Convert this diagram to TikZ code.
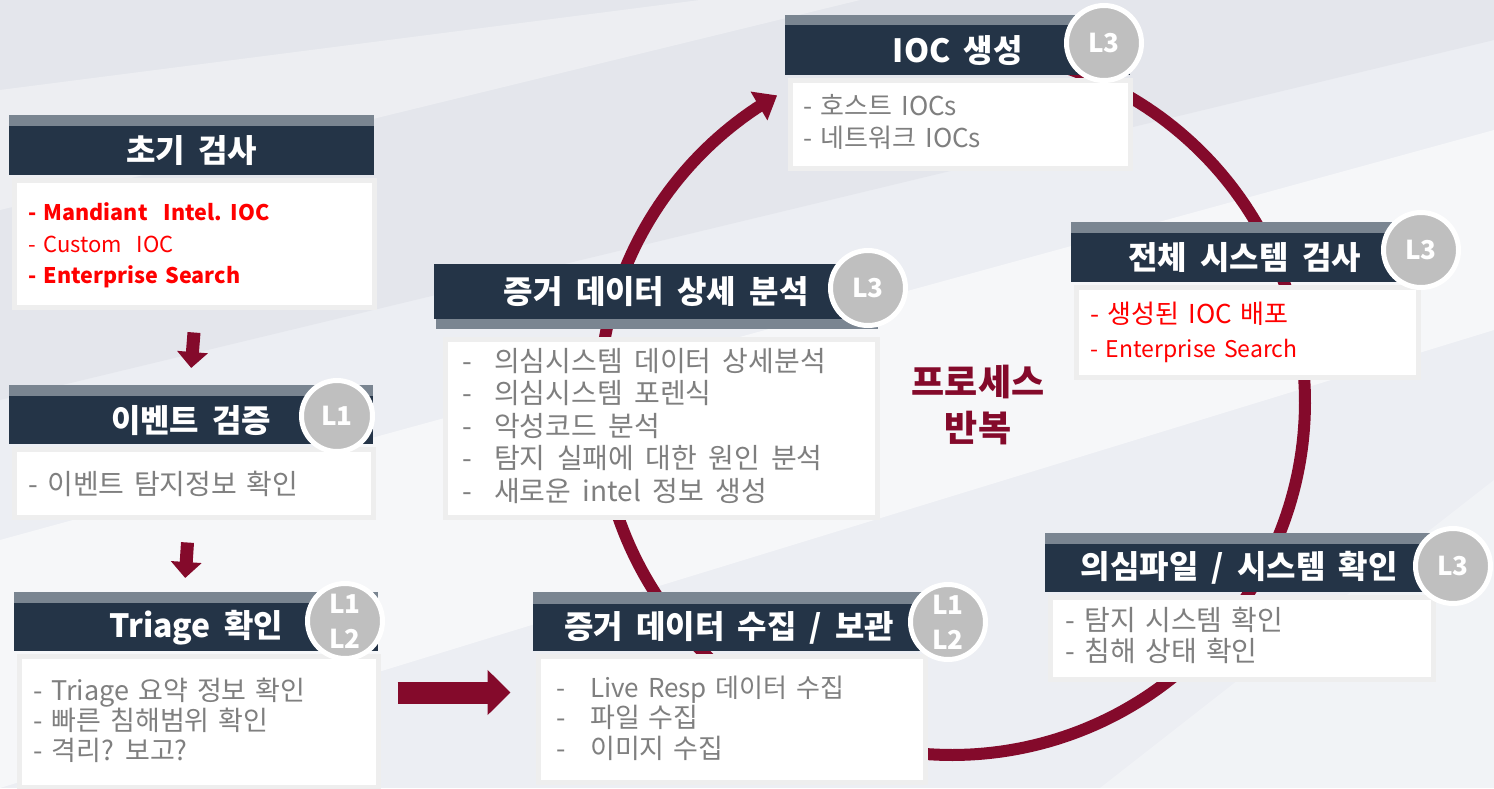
\documentclass[tikz,border=0pt]{standalone}
\usepackage{fontspec}
\setmainfont{Noto Sans CJK KR}[WordSpace=1.5]
\newfontfamily\widefont{Noto Sans CJK KR}[WordSpace=2.6]
\newfontfamily\titlefont{Noto Sans CJK KR}[WordSpace=1.8]
\usetikzlibrary{arrows.meta,calc}
\definecolor{navy}{HTML}{243447}
\definecolor{stripc}{HTML}{7A8591}
\definecolor{badgec}{HTML}{BFBFBF}
\definecolor{bodyline}{HTML}{EEEEEE}
\definecolor{txtgray}{HTML}{7F7F7F}
\definecolor{wine}{HTML}{840A2B}
\definecolor{redtxt}{HTML}{FF0000}
\definecolor{bgc}{HTML}{ECEEF3}
\definecolor{bgtop}{HTML}{E4E6EC}
\newcommand\fsz[2]{\fontsize{#1}{#2}\selectfont}
\begin{document}
\begin{tikzpicture}[x=1pt,y=-1pt,
  stripbox/.style={fill=stripc, draw=none, anchor=north west, inner sep=0pt, minimum height=11pt},
  headbox/.style={fill=navy, draw=none, text=white, anchor=north west, inner sep=0pt, font=\titlefont\fsz{32}{38}\bfseries},
  bodybox/.style={fill=white, draw=bodyline, line width=5pt, anchor=north west, inner sep=0pt},
  badge/.style={circle, fill=badgec, draw=white, line width=5pt, text=white, minimum size=75pt, inner sep=0pt, align=center, font=\fsz{26}{35}\bfseries},
  itemtxt/.style={anchor=base west, inner sep=0pt, text=txtgray, font=\fsz{26}{30}},
  reditem/.style={anchor=base west, inner sep=0pt, text=redtxt, font=\fsz{22}{28}},
  blockarrow/.style={wine, line width=13pt, -{Triangle[length=16pt,width=30pt]}},
  bigarrow/.style={wine, line width=22pt, -{Triangle[length=23pt,width=44pt]}},
  cyclearrow/.style={wine, line width=12pt, -{Triangle[length=21pt,width=32pt]}}
]
\useasboundingbox (0,0) rectangle (1494,788);
% background
\fill[bgc] (0,0) rectangle (1494,788);
\fill[bgtop] (0,0) -- (1494,0) -- (1494,40) -- (0,400) -- cycle;
\fill[white,opacity=.55] (0,540) -- (1494,130) -- (1494,330) -- (0,788) -- cycle;
\fill[white,opacity=.35] (0,90) -- (700,0) -- (860,0) -- (0,210) -- cycle;
\fill[white,opacity=.3] (1494,480) -- (1494,788) -- (1100,788) -- cycle;

% cycle arrow
\coordinate (cyc) at (952,402);
\begin{scope}[shift={(cyc)}]
\draw[cyclearrow] plot[domain=285:600.3, samples=240] (\x:353);
\end{scope}

% Box 1 : 초기 검사
\node[stripbox, minimum width=365pt] (s1) at (9,115) {};
\node[headbox, minimum width=365pt, minimum height=49pt] (h1) at (9,126) {초기 검사};
\node[bodybox, minimum width=360pt, minimum height=127pt] (b1) at (11.5,177.5) {};
\node[reditem, font=\fsz{21.5}{28}\bfseries] (t1a) at (28,220) {- Mandiant\hspace{0.4em} Intel. IOC};
\node[reditem] (t1b) at (28,252) {- Custom~ IOC};
\node[reditem, font=\fsz{21.5}{28}\bfseries] (t1c) at (28,283) {- Enterprise Search};

% Box 2 : 이벤트 검증
\node[stripbox, minimum width=364pt] (s2) at (9,385) {};
\node[headbox, minimum width=364pt, minimum height=48pt] (h2) at (9,396) {이벤트 검증};
\node[bodybox, minimum width=359pt, minimum height=68pt] (b2) at (11.5,446.5) {};
\node[itemtxt, font=\fsz{28}{30}] (t2a) at (28,494) {- 이벤트 탐지정보 확인};
\node[badge, minimum size=71pt] (c2) at (337,416) {L1};

% Box 3 : Triage 확인
\node[stripbox, minimum width=364pt] (s3) at (14,592) {};
\node[headbox, minimum width=364pt, minimum height=48pt] (h3) at (14,603) {Triage 확인};
\node[bodybox, minimum width=359pt, minimum height=131pt] (b3) at (16.5,653.5) {};
\node[itemtxt, font=\fsz{27}{30}] (t3a) at (33,700) {- Triage 요약 정보 확인};
\node[itemtxt, font=\fsz{27}{30}] (t3b) at (33,730) {- 빠른 침해범위 확인};
\node[itemtxt, font=\fsz{27}{30}] (t3c) at (33,760) {- 격리? 보고?};
\node[badge] (c3) at (345,621) {L1\\L2};

% Box 4 : 증거 데이터 수집 / 보관
\node[stripbox, minimum width=392pt, minimum height=12pt] (s4) at (533,592) {};
\node[headbox, minimum width=392pt, minimum height=47pt] (h4) at (533,604) {증거 데이터 수집 / 보관};
\node[bodybox, minimum width=387pt, minimum height=126pt] (b4) at (535.5,653.5) {};
\node[itemtxt] (t4a) at (556,697) {\makebox[34pt][l]{-}Live Resp 데이터 수집};
\node[itemtxt, font=\fsz{27}{30}] (t4b) at (556,727) {\makebox[34pt][l]{-}파일 수집};
\node[itemtxt, font=\fsz{27}{30}] (t4c) at (556,758) {\makebox[34pt][l]{-}이미지 수집};
\node[badge] (c4) at (948,622) {L1\\L2};

% Box 5 : 증거 데이터 상세 분석
\node[stripbox, minimum width=442pt] (s5) at (436,318) {};
\node[headbox, minimum width=444pt, minimum height=55pt] (h5) at (434,264) {증거 데이터 상세 분석};
\node[bodybox, minimum width=432pt, minimum height=178pt] (b5) at (442.5,336.5) {};
\node[itemtxt, font=\widefont\fsz{28}{30}] (t5a) at (462,371) {\makebox[32pt][l]{-}의심시스템 데이터 상세분석};
\node[itemtxt, font=\widefont\fsz{28}{30}] (t5b) at (462,403.5) {\makebox[32pt][l]{-}의심시스템 포렌식};
\node[itemtxt, font=\widefont\fsz{28}{30}] (t5c) at (462,436) {\makebox[32pt][l]{-}악성코드 분석};
\node[itemtxt, font=\widefont\fsz{28}{30}] (t5d) at (462,468.5) {\makebox[32pt][l]{-}탐지 실패에 대한 원인 분석};
\node[itemtxt, font=\widefont\fsz{28}{30}] (t5e) at (462,501) {\makebox[32pt][l]{-}새로운 intel 정보 생성};
\node[badge] (c5) at (868,288) {L3};

% Box 6 : IOC 생성
\node[stripbox, minimum width=345pt, minimum height=10pt] (s6) at (785,15) {};
\node[headbox, minimum width=345pt, minimum height=50pt] (h6) at (785,25) {IOC 생성};
\node[bodybox, minimum width=340pt, minimum height=88pt] (b6) at (787.5,77.5) {};
\node[itemtxt] (t6a) at (803,115) {- 호스트 IOCs};
\node[itemtxt] (t6b) at (803,147) {- 네트워크 IOCs};
\node[badge] (c6) at (1104,43) {L3};

% Box 7 : 전체 시스템 검사
\node[stripbox, minimum width=347pt] (s7) at (1071,222) {};
\node[headbox, minimum width=347pt, minimum height=49pt] (h7) at (1071,233) {전체 시스템 검사};
\node[bodybox, minimum width=342pt, minimum height=90pt] (b7) at (1073.5,284.5) {};
\node[reditem, font=\fsz{26}{30}] (t7a) at (1090,323) {- 생성된 IOC 배포};
\node[reditem, font=\fsz{23}{30}] (t7b) at (1090,357) {- Enterprise Search};
\node[badge] (c7) at (1421,250) {L3};

% Box 8 : 의심파일 / 시스템 확인
\node[stripbox, minimum width=388pt] (s8) at (1045,533) {};
\node[headbox, minimum width=388pt, minimum height=48pt] (h8) at (1045,544) {의심파일 / 시스템 확인};
\node[bodybox, minimum width=383pt, minimum height=82pt] (b8) at (1047.5,594.5) {};
\node[itemtxt, font=\fsz{28}{30}] (t8a) at (1065,630) {- 탐지 시스템 확인};
\node[itemtxt, font=\fsz{28}{30}] (t8b) at (1065,661) {- 침해 상태 확인};
\node[badge] (c8) at (1453,566) {L3};

% center label
\node[font=\fsz{36}{46}\bfseries, text=wine, align=center, inner sep=0pt] (rep) at (978,405) {프로세스\\반복};

% block arrows between boxes
\draw[blockarrow] ($(b1.south)+(0,23)$) -- ($(s2.north)+(0,-17)$);
\draw[blockarrow] ($(b2.south)+(-6,23)$) -- ($(s3.north)+(-11,-14)$);
\draw[bigarrow] ($(b3.east)+(17,-29)$) -- ($(b4.west)+(-25,-26.5)$);
\end{tikzpicture}
\end{document}
